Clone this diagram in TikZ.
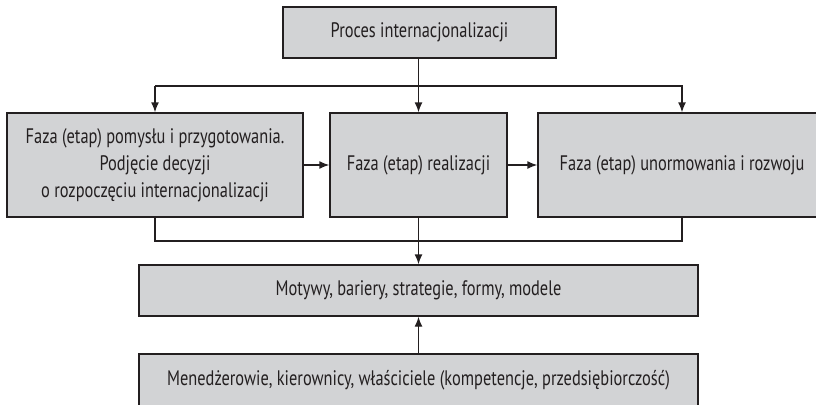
\documentclass[tikz,border=0pt]{standalone}
\usepackage{fontspec}
\setmainfont{PT Sans}[FakeStretch=0.78]
\usetikzlibrary{arrows.meta}
\definecolor{boxfill}{RGB}{210,211,213}
\definecolor{ink}{RGB}{35,31,32}
\tikzset{
  box/.style={draw=ink, line width=1.4pt, fill=boxfill, text=ink,
    rectangle, inner sep=0pt, align=center,
    font=\fontsize{21}{27}\selectfont},
  link/.style={draw=ink, line width=1.4pt},
  arr/.style={link, -{Latex[length=10pt,width=8pt]}}
}
\begin{document}
\begin{tikzpicture}[x=1pt,y=-1pt]
  \useasboundingbox (0,0) rectangle (816,404);
  \clip (0,0) rectangle (816,404);

  % process header
  \node[box, minimum width=273pt, minimum height=51pt] (top) at (419.5,32.5)
    {Proces internacjonalizacji};

  % three phases
  \node[box, minimum width=296pt, minimum height=104pt] (left) at (155,165)
    {Faza (etap) pomysłu i przygotowania.\\ Podjęcie decyzji\\ o rozpoczęciu internacjonalizacji};
  \node[box, minimum width=177pt, minimum height=104pt] (mid) at (418.5,165)
    {Faza (etap) realizacji};
  \node[box, minimum width=288pt, minimum height=104pt] (right) at (682,165)
    {Faza (etap) unormowania i rozwoju};

  % lower boxes
  \node[box, minimum width=559pt, minimum height=51pt] (mot) at (418.5,290.5)
    {Motywy, bariery, strategie, formy, modele};
  \node[box, minimum width=559pt, minimum height=52pt] (men) at (418.5,380)
    {Menedżerowie, kierownicy, właściciele (kompetencje, przedsiębiorczość)};

  % distribution bus from the header
  \coordinate (busY) at (0,86);
  \draw[arr] (top.south -| mid.north) -- (mid.north);
  \draw[arr] (busY -| left.north) -- (left.north);
  \draw[arr] (busY -| left.north) -- (busY -| right.north) -- (right.north);

  % phase sequence
  \draw[arr] (left.east) -- (mid.west);
  \draw[arr] (mid.east) -- (right.west);

  % collecting bus to the factors box
  \coordinate (botY) at (0,241);
  \draw[link] (left.south) -- (botY -| left.south) -- (botY -| right.south) -- (right.south);
  \draw[arr] (mid.south) -- (mot.north);

  % managers feed the factors
  \draw[arr] (men.north) -- (mot.south);
\end{tikzpicture}
\end{document}
